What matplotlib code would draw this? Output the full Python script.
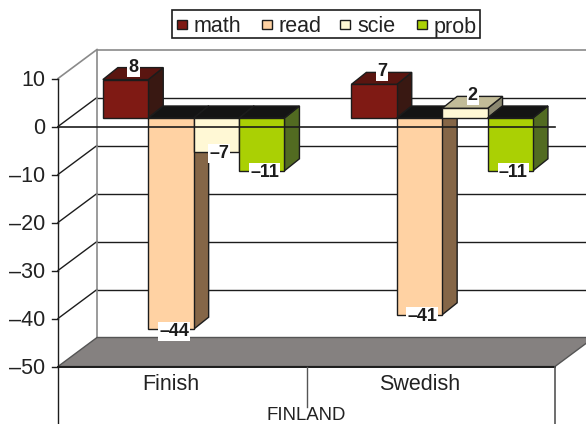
import matplotlib
matplotlib.use('Agg')
import matplotlib.pyplot as plt
from matplotlib.patches import Polygon, Rectangle

plt.rcParams['font.family'] = ['Liberation Sans', 'DejaVu Sans']

#%% data
categories = ['Finish', 'Swedish']
group_label = 'FINLAND'
series = ['math', 'read', 'scie', 'prob']
math_vals = [8, 7]
read_vals = [-44, -41]
scie_vals = [-7, 2]
prob_vals = [-11, -11]
y_ticks = [10, 0, -10, -20, -30, -40, -50]

#%% colours: front, top (positive bars), side
front = ['#7f1a14', '#ffd2a3', '#fff8d5', '#aad004']
top = ['#5a1510', '#c8a680', '#c2bc98', '#88a603']
side = ['#391812', '#856647', '#8b8870', '#526b21']
top_neg = '#141414'
line = '#1c1c1c'
grey = '#8a8a8a'

#%% the fake 3d projection, all in pixels of the picture
x0, x1 = 58, 555
y_zero, px_per_unit = 126.5, 4.8
wall_dx, wall_dy = 39, -29
bar_dx, bar_dy = 11.4, -8.5
depth_dx, depth_dy = 15, -12
bar_w = 45.4
cat_w = (x1 - x0) / len(categories)

def yv(v):
    return y_zero - px_per_unit * v

def fmt(v):
    return str(v).replace('-', '\u2013')

fig = plt.figure(figsize=(5.86, 4.24), dpi=100)
ax = fig.add_axes([0, 0, 1, 1])
ax.set_xlim(0, 586)
ax.set_ylim(424, 0)
ax.axis('off')

#%% walls and gridlines
for t in y_ticks:
    y = yv(t)
    if t == 10:
        ax.plot([x0, x0 + wall_dx], [y, y + wall_dy], c=grey, lw=1.2, zorder=1)
        ax.plot([x0 + wall_dx, 586], [y + wall_dy, y + wall_dy], c=grey, lw=1.2, zorder=1)
    else:
        if t != -50:
            ax.plot([x0, x0 + wall_dx], [y, y + wall_dy], c=line, lw=1, zorder=1)
            ax.plot([x0 + wall_dx, 586], [y + wall_dy, y + wall_dy], c=line, lw=1, zorder=1)
    ax.plot([x0 - 6, x0], [y, y], c=line, lw=1, zorder=1)
    ax.text(45, y, fmt(t), ha='right', va='center_baseline', fontsize=15.5, color='#222222')
ax.plot([x0 + wall_dx] * 2, [yv(10) + wall_dy, yv(-50) + wall_dy], c=grey, lw=1.2, zorder=1)

floor = [(x0, yv(-50)), (x1, yv(-50)), (x1 + wall_dx, yv(-50) + wall_dy), (x0 + wall_dx, yv(-50) + wall_dy)]
ax.add_patch(Polygon(floor, fc='#858180', ec='#555555', lw=1, zorder=1.5))
ax.plot([x0, x1], [yv(-50)] * 2, c=line, lw=1.4, zorder=2)

#%% bars
all_vals = [math_vals, read_vals, scie_vals, prob_vals]
for c in range(len(categories)):
    center = x0 + cat_w * (c + 0.5) + bar_dx
    left = center - bar_w * len(series) / 2
    for s, vals in enumerate(all_vals):
        v = vals[c]
        xa = left + s * bar_w
        xb = xa + bar_w
        y_base = yv(0) + bar_dy
        y_val = y_base - px_per_unit * v
        y_top = min(y_base, y_val)
        y_bot = max(y_base, y_val)
        z = 3 + s * 0.1
        ax.add_patch(Polygon([(xb, y_top), (xb + depth_dx, y_top + depth_dy),
                              (xb + depth_dx, y_bot + depth_dy), (xb, y_bot)],
                             fc=side[s], ec=line, lw=1, zorder=z))
        ax.add_patch(Polygon([(xa, y_top), (xb, y_top), (xb + depth_dx, y_top + depth_dy),
                              (xa + depth_dx, y_top + depth_dy)],
                             fc=top[s] if v > 0 else top_neg, ec=line, lw=1, zorder=z))
        ax.add_patch(Rectangle((xa, y_top), bar_w, y_bot - y_top, fc=front[s], ec=line, lw=1, zorder=z))
        if v >= 0:
            tx, ty = (xa + xb) / 2 + 8, y_val - 12.5
        else:
            tx, ty = (xa + xb) / 2 + 3, y_val + 2
        ax.text(tx, ty, fmt(v), ha='center', va='center', fontsize=13, fontweight='bold', color='#1c1c1c',
                zorder=6, bbox=dict(fc='white', ec='none', pad=0.8))

# front zero line runs over the bars
ax.plot([x0, x1], [yv(0)] * 2, c=line, lw=1.2, zorder=5)

#%% bottom axis
ax.plot([x0, x0], [yv(10), 424], c=line, lw=1, zorder=2)
ax.plot([x1, x1], [yv(-50), 424], c='#555555', lw=1.2, zorder=2)
ax.plot([(x0 + x1) / 2] * 2, [yv(-50), 407], c='#555555', lw=1, zorder=2)
for c, name in enumerate(categories):
    ax.text(x0 + cat_w * (c + 0.5) - 11, 382, name, ha='center', va='center_baseline', fontsize=15.5, color='#222222')
ax.text((x0 + x1) / 2, 414, group_label, ha='center', va='center_baseline', fontsize=13.4, color='#222222')

#%% legend
ax.add_patch(Rectangle((172, 10), 308, 28, fc='white', ec=line, lw=1.2, zorder=7))
handle_x = [177, 262, 340, 417]
for s, name in enumerate(series):
    ax.add_patch(Rectangle((handle_x[s], 20), 10, 9, fc=front[s], ec=line, lw=1, zorder=8))
    ax.text(handle_x[s] + 17, 24.5, name, ha='left', va='center_baseline', fontsize=15.5, color='#222222', zorder=8)

fig.savefig('out.png', dpi=100)
